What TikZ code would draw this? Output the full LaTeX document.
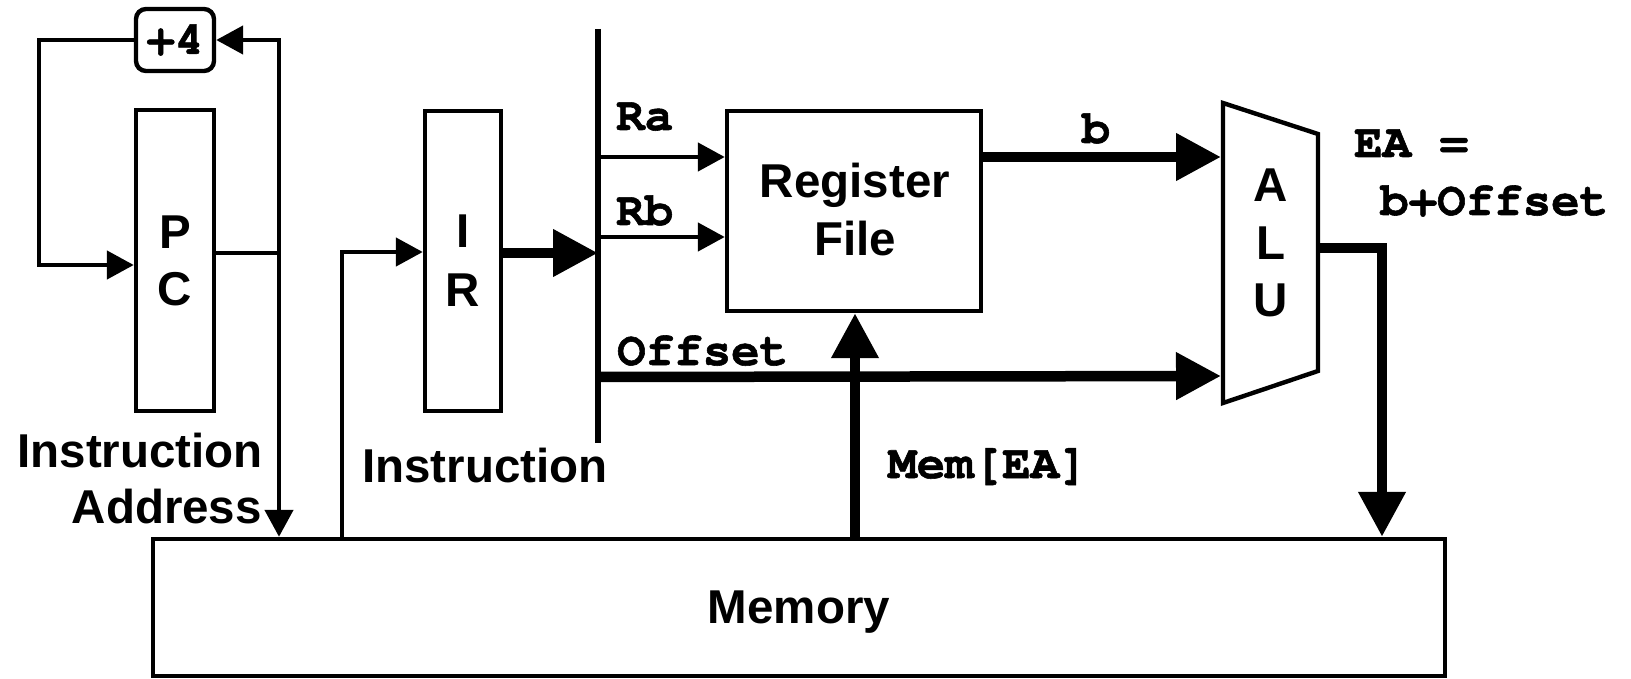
\documentclass[tikz,border=0pt]{standalone}
\usepackage{fontspec}
\usetikzlibrary{arrows.meta,calc}
\newfontfamily\sansf{Liberation Sans}
\newfontfamily\monof{TeX Gyre Cursor}[Ligatures=NoCommon, FakeBold=1.2]
\begin{document}
\begin{tikzpicture}[x=1pt,y=-1pt,
  wire/.style={line width=4.6pt},
  bigwire/.style={line width=10.5pt},
  box/.style={draw, line width=4.4pt, inner sep=0pt},
  sanslbl/.style={font=\sansf\bfseries\fontsize{47.5}{57}\selectfont, inner sep=0pt},
  monolbl/.style={font=\monof\bfseries\fontsize{47.5}{57}\selectfont, inner sep=0pt},
  tipS/.tip={Triangle[length=27pt,width=28pt]},
  tipL/.tip={Triangle[length=45pt,width=45pt]}]
\useasboundingbox (0,0) rectangle (1631,679);

% blocks
\node[box, monolbl, rounded corners=10pt, minimum width=78pt, minimum height=62pt] (inc) at (175,40) {+4};
\node[box, sanslbl, align=center, minimum width=78pt, minimum height=301pt] (pc) at (175,260.5) {P\\C};
\node[box, sanslbl, align=center, font=\sansf\bfseries\fontsize{47.5}{59}\selectfont,
      minimum width=76pt, minimum height=300pt] (ir) at (463,261) {I\\R};
\node[box, minimum width=254pt, minimum height=200pt] (rf) at (854,211) {};
\node[sanslbl, align=center, font=\sansf\bfseries\fontsize{47.5}{58}\selectfont] (rflbl) at (855,210) {Register\\File};
\node[box, minimum width=1292pt, minimum height=137pt] (mem) at (799,607.5) {};
\node[sanslbl, anchor=base] (memlbl) at (799,623) {Memory};

% ALU
\draw[line width=4.4pt] (1223,103) -- (1318,134) -- (1318,371) -- (1223,403) -- cycle;
\node[sanslbl, align=center, font=\sansf\bfseries\fontsize{47.5}{57.5}\selectfont] (alulbl) at (1271,243) {A\\L\\U};
\coordinate (aluB) at (1221,157);
\coordinate (aluOff) at (1221,376);
\coordinate (aluOut) at (1318,248);
\coordinate (aluDrop) at (1382,400);

% instruction bus
\coordinate (busTop) at (598,29);
\coordinate (busBot) at (598,443);
\coordinate (busIR) at (598,253);
\coordinate (busRa) at (598,157);
\coordinate (busRb) at (598,237);
\coordinate (busOff) at (598,377);
\draw[line width=6pt] (busTop) -- (busBot);

% PC loop and fetch address
\coordinate (pcjoin) at (279,253);
\coordinate (irIn) at (342,252);
\coordinate (memEA) at (855,400);
\draw[wire, -tipS] (inc.west) -- ++(-95,0) |- (pc.west |- 0,265);
\draw[wire, -tipS] (pc.east |- pcjoin) -| (mem.north -| pcjoin);
\draw[wire, -tipS] (pcjoin) |- (inc.east);
\draw[wire, -tipS] (mem.north -| irIn) |- (ir.west |- irIn);

% datapath
\draw[bigwire, -tipL] (ir.east |- busIR) -- (busIR);
\draw[wire, -tipS] (busRa) -- (rf.west |- busRa);
\draw[wire, -tipS] (busRb) -- (rf.west |- busRb);
\draw[bigwire, -tipL] (busOff) -- (aluOff);
\draw[bigwire, -tipL] (rf.east |- aluB) -- (aluB);
\draw[bigwire, -tipL] (mem.north -| memEA) -- (rf.south -| memEA);
\draw[bigwire, -tipL] (aluOut) -| (mem.north -| aluDrop);

% labels
\node[monolbl, anchor=base west] (raL) at (616,130) {Ra};
\node[monolbl, anchor=base west] (rbL) at (616,225) {Rb};
\node[monolbl, anchor=base west] (offL) at (617,365) {Offset};
\node[monolbl, anchor=base] (bL) at (1096,143) {b};
\node[monolbl, anchor=base west] (eaL1) at (1354,157) {EA =};
\node[monolbl, anchor=base west] (eaL2) at (1380,215) {b+Offset};
\node[monolbl, anchor=base west] (memEAL) at (888,478) {Mem[EA]};
\node[sanslbl, anchor=base east] (iaL1) at (263,467) {Instruction};
\node[sanslbl, anchor=base east] (iaL2) at (262,523) {Address};
\node[sanslbl, anchor=base west] (instrL) at (362,482) {Instruction};
\end{tikzpicture}
\end{document}
